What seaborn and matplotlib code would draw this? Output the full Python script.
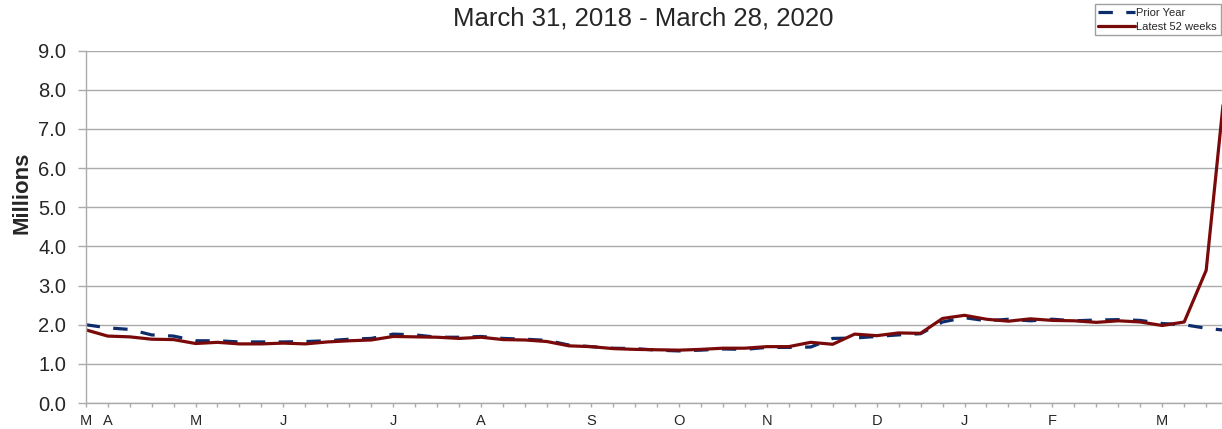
import numpy as np
import pandas as pd
import matplotlib.pyplot as plt
import seaborn as sns

# weekly values in millions, week ending Mar 30 2019 .. Mar 28 2020
latest_52 = [1.87, 1.71, 1.69, 1.63, 1.62, 1.52, 1.55, 1.51, 1.51, 1.53,
             1.51, 1.56, 1.59, 1.61, 1.70, 1.69, 1.68, 1.65, 1.68, 1.62,
             1.61, 1.57, 1.46, 1.44, 1.39, 1.37, 1.36, 1.35, 1.37, 1.40,
             1.40, 1.44, 1.44, 1.55, 1.50, 1.76, 1.72, 1.79, 1.78, 2.16,
             2.24, 2.14, 2.09, 2.15, 2.11, 2.10, 2.06, 2.10, 2.07, 1.98,
             2.07, 3.39, 8.90]
prior_year = [2.00, 1.92, 1.88, 1.74, 1.71, 1.59, 1.59, 1.56, 1.56, 1.56,
              1.57, 1.59, 1.63, 1.65, 1.76, 1.74, 1.68, 1.68, 1.70, 1.65,
              1.63, 1.60, 1.48, 1.44, 1.40, 1.39, 1.35, 1.33, 1.35, 1.38,
              1.37, 1.42, 1.42, 1.43, 1.65, 1.66, 1.70, 1.74, 1.77, 2.07,
              2.18, 2.10, 2.14, 2.10, 2.14, 2.10, 2.12, 2.13, 2.11, 2.03,
              2.00, 1.91, 1.85]
month_weeks = [0, 1, 5, 9, 14, 18, 23, 27, 31, 36, 40, 44, 49]
month_labels = ["M", "A", "M", "J", "J", "A", "S", "O", "N", "D", "J", "F", "M"]
y_ticks = [0, 1, 2, 3, 4, 5, 6, 7, 8, 9]

weeks = np.arange(len(latest_52))
df = pd.DataFrame({"week": weeks, "latest": latest_52, "prior": prior_year})

sns.set_style("white")
plt.rcParams["font.family"] = ["Liberation Sans", "DejaVu Sans"]

grid_col = "#ABABAB"
red = "#7A0A0A"
navy = "#0D2C6C"

fig = plt.figure(figsize=(12.22, 4.29), dpi=100)
ax = fig.add_axes([0.0701, 0.0606, 0.9299, 0.8212])

sns.lineplot(data=df, x="week", y="prior", ax=ax, color=navy, lw=2.3,
             dashes=False, label="Prior Year")
ax.lines[-1].set_dashes((4.5, 4.2))
sns.lineplot(data=df, x="week", y="latest", ax=ax, color=red, lw=2.3,
             label="Latest 52 weeks")

ax.set_yticks(y_ticks)
ax.set_yticklabels([f"{v:.1f}" for v in y_ticks], fontsize=14.5)
ax.set_xticks(month_weeks)
ax.set_xticklabels(month_labels, fontsize=10.5)
ax.set_xticks(weeks, minor=True)
# the last week falls just past the right edge of the picture
ax.set_xlim(0, 51.72)
ax.set_ylim(0, 9)

ax.grid(True, axis="y", color=grid_col, lw=1.0)
ax.set_axisbelow(True)
ax.tick_params(axis="y", which="major", direction="out", length=5.5, width=1,
               color=grid_col, pad=8.5, left=True)
ax.tick_params(axis="x", which="both", direction="out", length=3.2, width=1,
               color=grid_col, pad=5, bottom=True)
for side in ["top", "right"]:
    ax.spines[side].set_visible(False)
for side in ["left", "bottom"]:
    ax.spines[side].set_color(grid_col)
    ax.spines[side].set_linewidth(1.0)

ax.set_xlabel("")
ax.set_ylabel("Millions", fontsize=16, fontweight="bold")
ax.yaxis.set_label_coords(-0.047, 0.596)

ax.get_legend().remove()
handles, labels = ax.get_legend_handles_labels()
fig.legend(handles, labels, loc="upper right", bbox_to_anchor=(0.999, 0.99),
           fontsize=8, frameon=True, fancybox=False, edgecolor="#888888",
           handlelength=3.3, handletextpad=0.1, borderpad=0.35,
           labelspacing=0.3, borderaxespad=0)

fig.text(0.526, 0.957, "March 31, 2018 - March 28, 2020", ha="center",
         va="center", fontsize=18.5)

fig.savefig("out.png", dpi=100)
